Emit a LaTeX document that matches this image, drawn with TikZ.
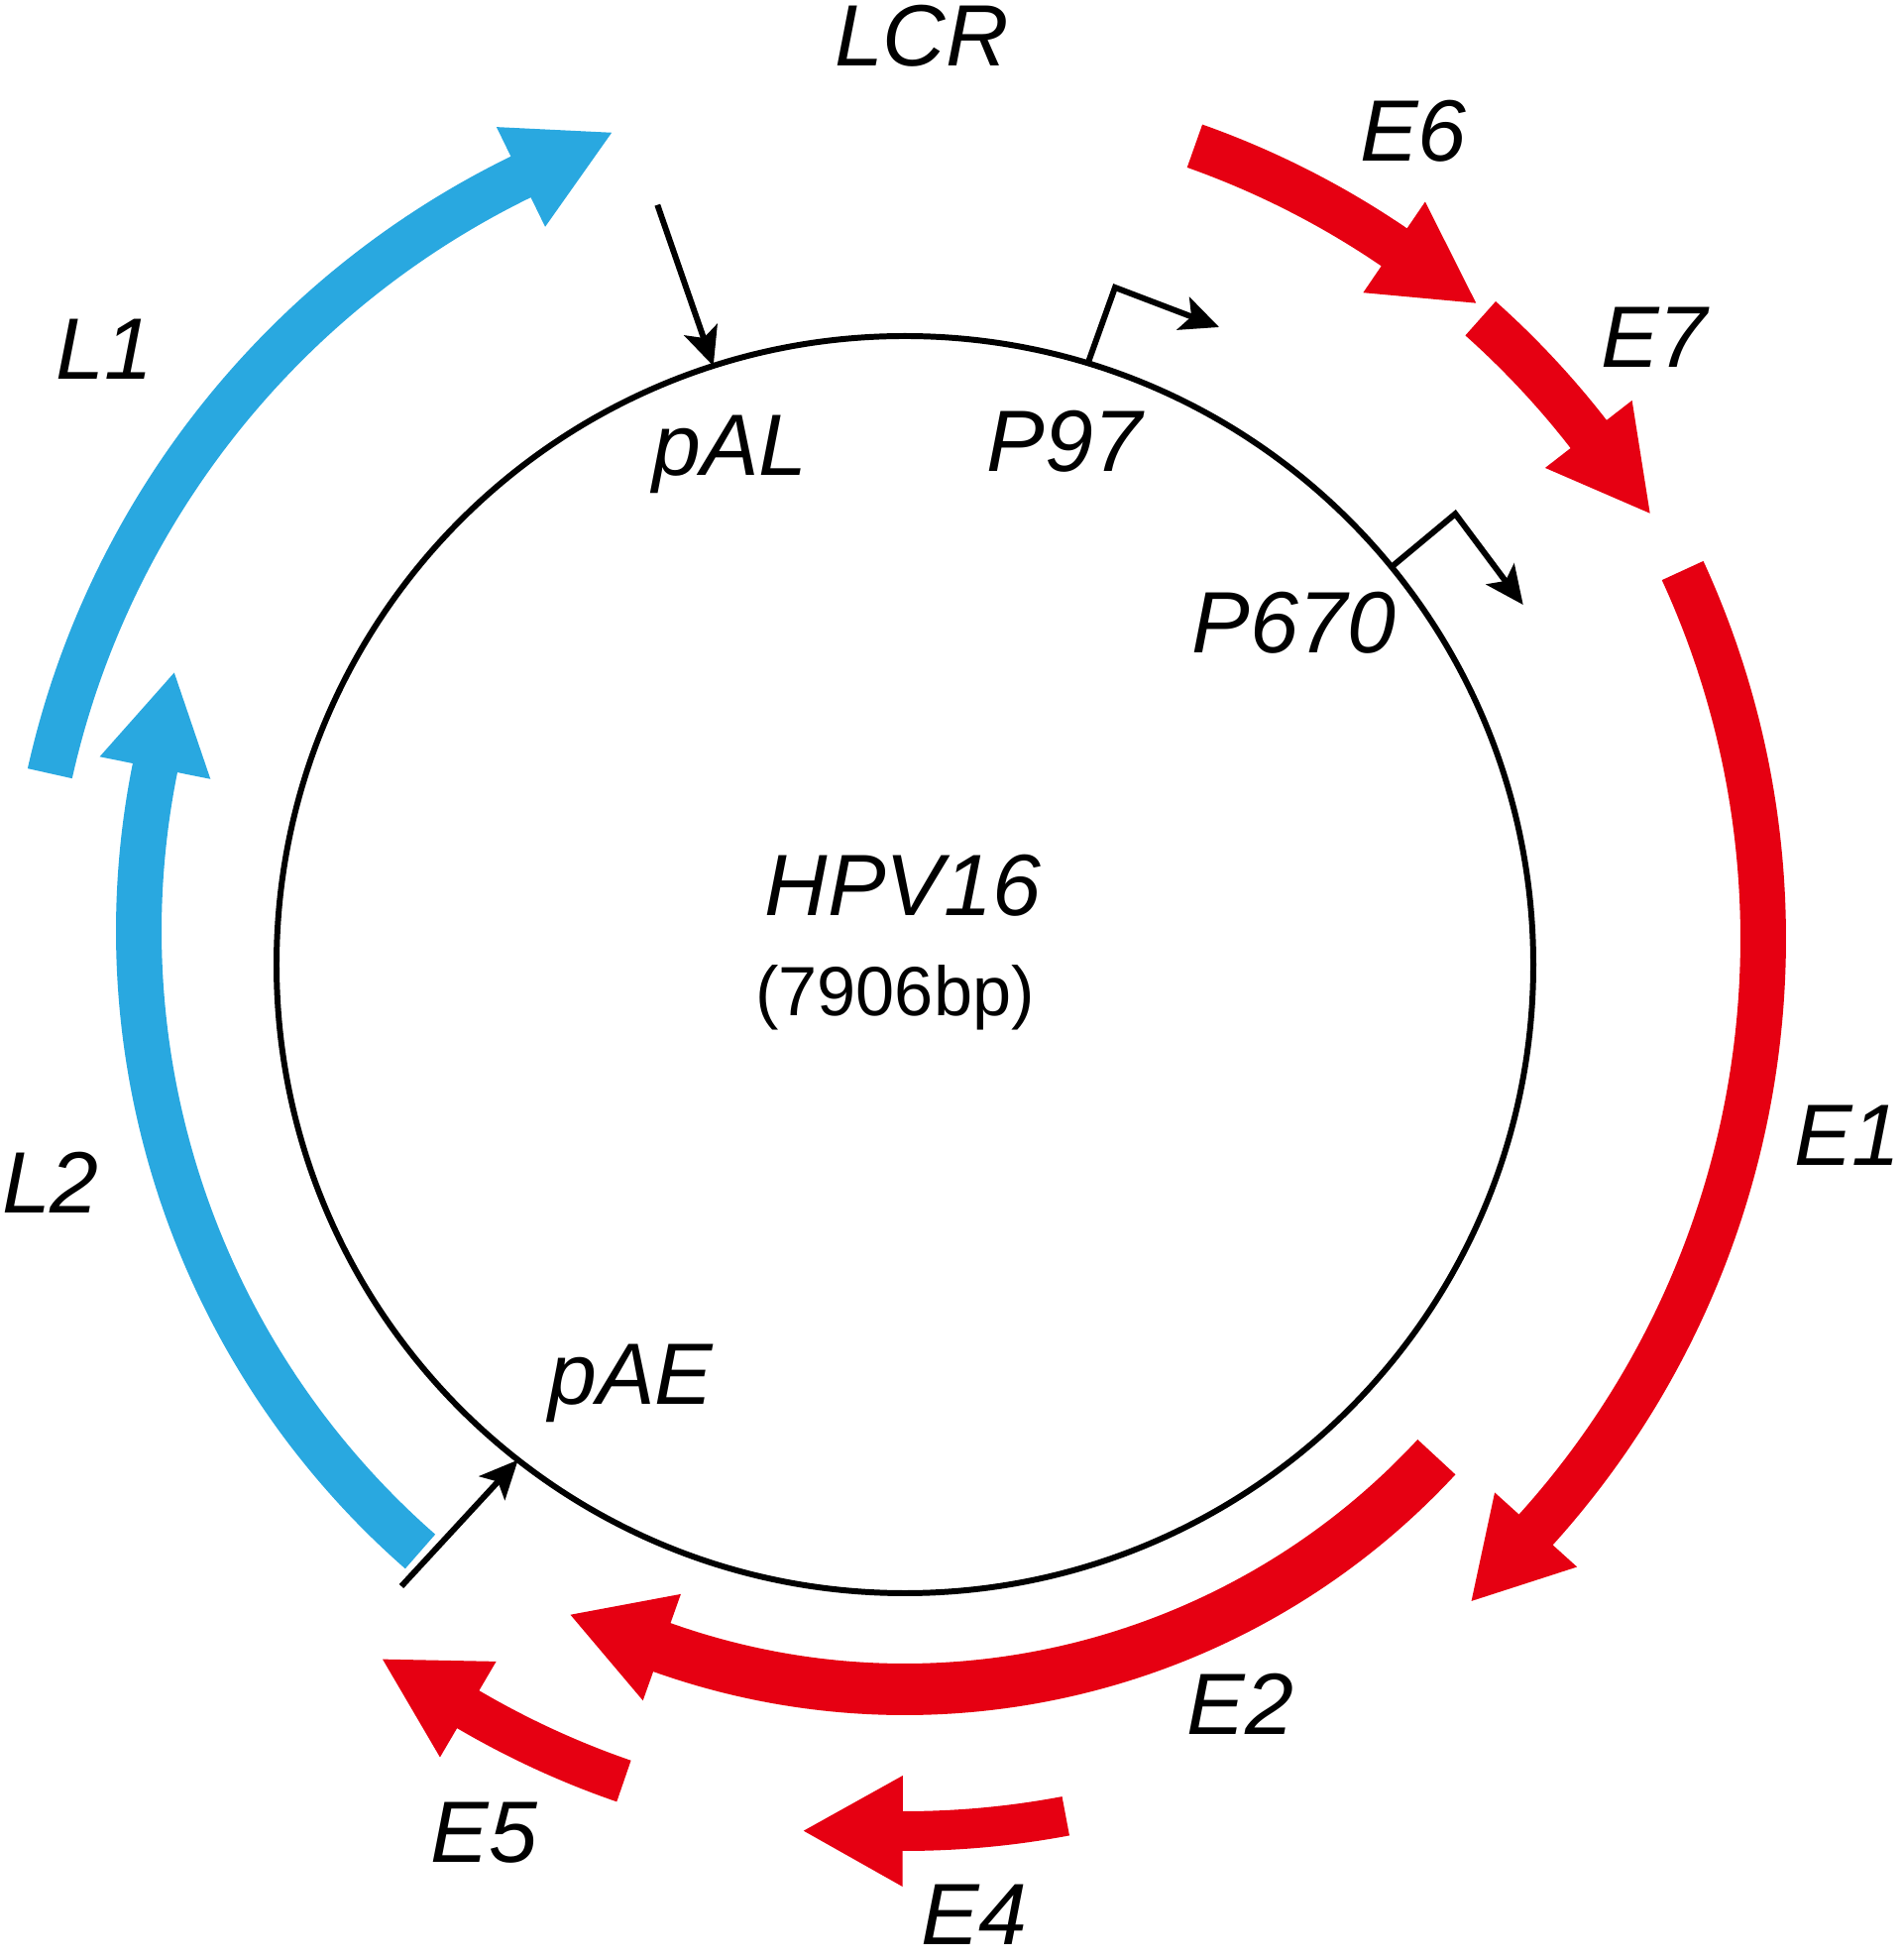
\documentclass[tikz,border=0pt]{standalone}
\usepackage{fontspec}
\setmainfont{Liberation Sans}
\usetikzlibrary{arrows.meta}
\definecolor{hpvblue}{RGB}{41,168,224}
\definecolor{hpvred}{RGB}{230,0,18}
% #1 colour, #2 centre, #3 mid radius, #4 half shaft width, #5 start angle,
% #6 angle of head back, #7 half head width, #8 head length, #9 direction (+1 ccw, -1 cw)
\newcommand{\genearrow}[9]{%
  \begin{scope}[shift={#2}]
    \pgfmathsetmacro\gro{#3+#4}\pgfmathsetmacro\gri{#3-#4}%
    \pgfmathsetmacro\gho{#3+#7}\pgfmathsetmacro\ghi{#3-#7}%
    \pgfmathsetmacro\gta{#6+#9*atan(#8/#3)}\pgfmathsetmacro\gtr{sqrt(#3*#3+#8*#8)}%
    \fill[#1] (#5:\gro) arc[start angle=#5, end angle=#6, radius=\gro]
      -- (#6:\gho) -- (\gta:\gtr) -- (#6:\ghi) -- (#6:\gri)
      arc[start angle=#6, end angle=#5, radius=\gri] -- cycle;
  \end{scope}}
\begin{document}
\begin{tikzpicture}[
  lbl/.style={font=\fontsize{25}{30}\selectfont\itshape, inner sep=0pt, anchor=base},
  sub/.style={font=\fontsize{20}{24}\selectfont, inner sep=0pt, anchor=base},
  pointer/.style={line width=1.7pt, -{Stealth[length=11pt, width=10pt, inset=2.5pt]}},
  prom/.style={line width=1.7pt, line join=miter, -{Stealth[length=11pt, width=10pt, inset=2.5pt]}}
]
\useasboundingbox (0,0) rectangle (19.19,19.77);
\coordinate (C) at (9.13,10.04);

% genome circle
\draw[line width=1.7pt] (C) circle[radius=6.34];

% gene arrows
\genearrow{hpvblue}{(9.13,10.04)}{8.84}{0.23}{167.4}{116}{0.56}{1.02}{-1}   % L1
\genearrow{hpvblue}{(9.72,10.38)}{8.32}{0.23}{228.8}{168.6}{0.57}{0.98}{-1} % L2
\genearrow{hpvred}{(9.13,10.04)}{8.76}{0.23}{70.5}{55.7}{0.555}{1.0}{-1}    % E6
\genearrow{hpvred}{(9.13,10.04)}{8.73}{0.23}{48.3}{37.8}{0.555}{1.01}{-1}   % E7
\genearrow{hpvred}{(8.90,10.30)}{8.89}{0.23}{24.7}{-42.1}{0.56}{0.97}{-1}   % E1
\genearrow{hpvred}{(9.13,10.04)}{7.31}{0.26}{-42.8}{-109.6}{0.57}{0.98}{-1} % E2
\genearrow{hpvred}{(9.13,10.04)}{8.74}{0.20}{-79.3}{-90.15}{0.56}{1.0}{-1}  % E4
\genearrow{hpvred}{(9.13,10.04)}{8.71}{0.22}{-109.0}{-120.4}{0.56}{1.0}{-1} % E5

% sites on the circle
\coordinate (pALsite) at ([shift={(107.75:6.34)}]C);
\coordinate (pAEsite) at ([shift={(232.0:6.34)}]C);
\coordinate (P97site) at ([shift={(73.07:6.34)}]C);
\coordinate (P670site) at ([shift={(39.25:6.34)}]C);
\coordinate (pALstart) at (6.633,17.703);
\coordinate (pAEstart) at (4.05,3.77);
\coordinate (P97corner) at (11.25,16.87);
\coordinate (P97end) at (12.30,16.47);
\coordinate (P670corner) at (14.683,14.587);
\coordinate (P670end) at (15.367,13.67);

\draw[pointer] (pALstart) -- (pALsite);
\draw[pointer] (pAEstart) -- (pAEsite);
\draw[prom] (P97site) -- (P97corner) -- (P97end);
\draw[prom] (P670site) -- (P670corner) -- (P670end);

% labels
\node[lbl] (lcr) at (9.30,19.103) {LCR};
\node[lbl] (pal) at (7.365,14.97) {pAL};
\node[lbl] (p97) at (10.74,15.01) {P97};
\node[lbl] (p670) at (13.055,13.185) {P670};
\node[lbl] (e6) at (14.26,18.14) {E6};
\node[lbl] (e7) at (16.69,16.065) {E7};
\node[lbl] (e1) at (18.64,8.01) {E1};
\node[lbl] (l1) at (1.055,15.944) {L1};
\node[lbl] (l2) at (0.51,7.53) {L2};
\node[lbl] (hpv) at (9.11,10.53) {HPV16};
\node[sub] (bp) at (9.03,9.52) {(7906bp)};
\node[lbl] (pae) at (6.365,5.603) {pAE};
\node[lbl] (e2) at (12.515,2.27) {E2};
\node[lbl] (e5) at (4.885,0.984) {E5};
\node[lbl] (e4) at (9.83,0.15) {E4};
\end{tikzpicture}
\end{document}
